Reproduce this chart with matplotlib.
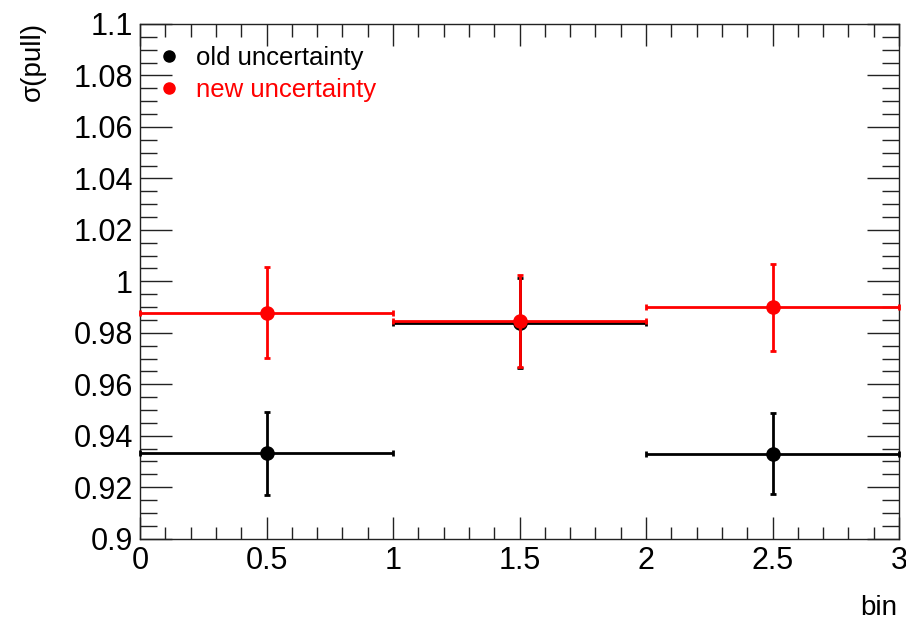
import matplotlib
matplotlib.use("Agg")
import matplotlib.pyplot as plt
from matplotlib.ticker import MultipleLocator
from matplotlib.lines import Line2D

plt.rcParams['font.family'] = ['Liberation Sans', 'DejaVu Sans']

bin_centers = [0.5, 1.5, 2.5]
bin_halfwidth = [0.5, 0.5, 0.5]
old_values = [0.9332, 0.9837, 0.9330]
old_errors = [0.0161, 0.0175, 0.0158]
new_values = [0.9878, 0.9846, 0.9899]
new_errors = [0.0176, 0.0178, 0.0168]
xticks = [0, 0.5, 1, 1.5, 2, 2.5, 3]
yticks = [0.9, 0.92, 0.94, 0.96, 0.98, 1.0, 1.02, 1.04, 1.06, 1.08, 1.1]
ytick_labels = ["0.9", "0.92", "0.94", "0.96", "0.98", "1", "1.02", "1.04", "1.06", "1.08", "1.1"]
xtick_labels = ["0", "0.5", "1", "1.5", "2", "2.5", "3"]

fig = plt.figure(figsize=(9.06, 6.24), dpi=100)
ax = fig.add_axes([140/906, 1-538.7/624, (899-140)/906, (538.7-24)/624])

ax.errorbar(bin_centers, old_values, xerr=bin_halfwidth, yerr=old_errors,
            fmt='o', color='black', ms=9.5, elinewidth=2, capsize=2.2, capthick=2,
            label='old uncertainty', zorder=3, clip_on=False)
ax.errorbar(bin_centers, new_values, xerr=bin_halfwidth, yerr=new_errors,
            fmt='o', color='red', ms=9.5, elinewidth=2, capsize=2.2, capthick=2,
            label='new uncertainty', zorder=4, clip_on=False)

ax.set_xlim(0, 3)
ax.set_ylim(0.9, 1.1)
ax.set_xticks(xticks)
ax.set_xticklabels(xtick_labels)
ax.set_yticks(yticks)
ax.set_yticklabels(ytick_labels)
ax.xaxis.set_minor_locator(MultipleLocator(0.1))
ax.yaxis.set_minor_locator(MultipleLocator(0.005))

ax.tick_params(which='both', direction='in', top=True, right=True, width=1, color='#222222')
ax.tick_params(axis='y', which='major', length=23, labelsize=22, pad=5)
ax.tick_params(axis='y', which='minor', length=12)
ax.tick_params(axis='x', which='major', length=16, labelsize=22, pad=5)
ax.tick_params(axis='x', which='minor', length=9)
for s in ax.spines.values():
    s.set_linewidth(1)
    s.set_color('#222222')

fig.text(897/906, 1-608/624, 'bin', ha='right', va='center', fontsize=20)
fig.text(33/906, 1-22/624, 'σ(pull)', ha='center', va='top', rotation=90, fontsize=20)

handles = [Line2D([], [], marker='o', color='black', ls='none', ms=8),
           Line2D([], [], marker='o', color='red', ls='none', ms=8)]
leg = ax.legend(handles, ['old uncertainty', 'new uncertainty'], loc='upper left',
                bbox_to_anchor=(0.014, 0.978), frameon=False, fontsize=18.5,
                handlelength=0.6, handletextpad=0.75, labelspacing=0.33, borderaxespad=0)
for t, c in zip(leg.get_texts(), ['black', 'red']):
    t.set_color(c)

fig.savefig('out.png', dpi=100)
